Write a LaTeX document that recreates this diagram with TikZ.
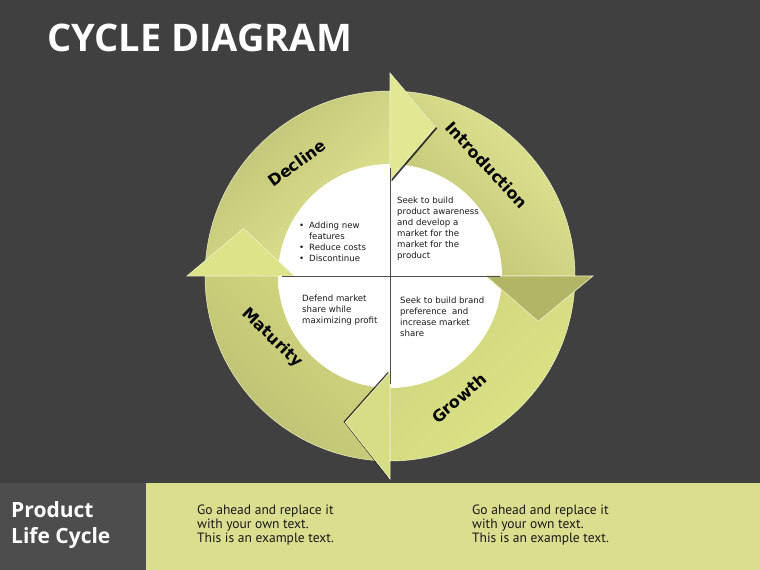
\documentclass[tikz,border=0pt]{standalone}
\usepackage{fontspec}
\setmainfont{PT Sans}
\newfontfamily\dvs{DejaVu Sans}
\newfontfamily\osans{Open Sans}
\definecolor{bg}{HTML}{404040}
\definecolor{darkbox}{HTML}{4D4D4D}
\definecolor{band}{HTML}{DADE8E}
\definecolor{rim}{HTML}{EEF1C4}
\definecolor{lightY}{HTML}{DDE385}
\definecolor{paleY}{HTML}{E2E794}
\definecolor{midY}{HTML}{D0D57F}
\definecolor{oliveY}{HTML}{BEC073}
\definecolor{darkO}{HTML}{B3B566}
\pgfdeclareradialshading{whiteedge}{\pgfpoint{0bp}{0bp}}{color(0bp)=(white); color(43bp)=(white); color(50bp)=(black!22); color(100bp)=(black!22)}
\tikzset{
  body/.style={draw=rim, line width=0.5pt},
  headshape/.style={draw=rim, line width=0.6pt},
  hshadow/.style={fill=black, opacity=0.75},
  stage/.style={font=\dvs\bfseries\fontsize{16}{16}\selectfont, text=black, inner sep=0pt},
  quad/.style={font=\dvs\fontsize{8.6}{11}\selectfont, text=black!90, inner sep=0pt, align=left, anchor=north west},
  bandtxt/.style={font=\fontsize{13.5}{14}\selectfont, text=black!90, inner sep=0pt, align=left, anchor=north west},
  crossline/.style={draw=black!70, line width=0.7pt}
}
\begin{document}
\begin{tikzpicture}[x=1pt,y=1pt]
\fill[bg] (0,0) rectangle (760,570);
\useasboundingbox (0,0) rectangle (760,570);
% title
\node[anchor=base west, font=\osans\bfseries\fontsize{38}{38}\selectfont, text=white, inner sep=0pt] (title) at (47,518) {CYCLE DIAGRAM};
% bottom band
\fill[darkbox] (0,0) rectangle (146,87);
\fill[band] (146,0) rectangle (760,87);
\node[anchor=base west, font=\osans\bfseries\fontsize{21}{25}\selectfont, text=white, inner sep=0pt] (plc) at (11,52) {Product};
\node[anchor=base west, font=\osans\bfseries\fontsize{21}{25}\selectfont, text=white, inner sep=0pt] (plc2) at (11,27) {Life Cycle};
\node[bandtxt] (t1) at (197,65) {Go ahead and replace it\\with your own text.\\This is an example text.};
\node[bandtxt] (t2) at (472,65) {Go ahead and replace it\\with your own text.\\This is an example text.};
% cycle
\begin{scope}[shift={(390,294)}]
  % bodies
  \path[body, left color=oliveY, middle color=lightY, right color=paleY, shading angle=45]
    (180:185pt) arc[start angle=180,end angle=90,radius=185pt] -- (90:108pt) arc[start angle=90,end angle=180,radius=108pt] -- cycle;
  \path[body, left color=paleY, middle color=midY, right color=oliveY, shading angle=-45]
    (90:185pt) arc[start angle=90,end angle=0,radius=185pt] -- (0:108pt) arc[start angle=0,end angle=90,radius=108pt] -- cycle;
  \path[body, left color=lightY, right color=midY, shading angle=-135]
    (0:185pt) arc[start angle=0,end angle=-90,radius=185pt] -- (-90:108pt) arc[start angle=-90,end angle=0,radius=108pt] -- cycle;
  \path[body, left color=oliveY, middle color=midY, right color=lightY, shading angle=135]
    (-90:185pt) arc[start angle=-90,end angle=-180,radius=185pt] -- (180:108pt) arc[start angle=180,end angle=90,radius=108pt] -- cycle;
  % white centre
  \shade[shading=whiteedge] (0,0) circle[radius=112pt];
  % heads
  \fill[hshadow] ([shift={(1.6,-1.6)}]90:96pt) -- ([shift={(1.6,-1.6)}]73:156pt) -- ([shift={(1.6,-1.6)}]90:203pt) -- cycle;
  \path[headshape, fill=paleY]
    (90:96pt) -- (73:156pt) -- (90:203pt) -- cycle;
  \path[headshape, fill=darkO]
    (0:96pt) -- (-17:155pt) -- (0:203pt) -- cycle;
  \fill[hshadow] ([shift={(-1.7,0.6)}]-90:96pt) -- ([shift={(-1.7,0.6)}]-107:153pt) -- ([shift={(-1.7,0.6)}]-90:203pt) -- cycle;
  \path[headshape, fill={rgb,255:red,215;green,220;blue,134}]
    (-90:96pt) -- (-107:153pt) -- (-90:203pt) -- cycle;
  \path[headshape, fill={rgb,255:red,221;green,227;blue,136}]
    (180:96pt) -- (162:154pt) -- (180:203pt) -- cycle;
  % cross lines
  \coordinate (ct) at (0,108);
  \coordinate (cb) at (0,-108);
  \coordinate (cl) at (-108,0);
  \coordinate (cr) at (110,0);
  \draw[crossline] (ct) -- (cb);
  \draw[crossline] (cl) -- (cr);
  % stage labels
  \node[stage, rotate=36] (decline) at (-93,113) {Decline};
  \node[stage, rotate=-47] (intro) at (97,111) {Introduction};
  \node[stage, rotate=41] (growth) at (69,-122) {Growth};
  \node[stage, rotate=-44] (maturity) at (-118,-62) {Maturity};
  % quadrant texts
  \node[quad] (qtr) at (7,79) {Seek to build\\product awareness\\and develop a\\market for the\\market for the\\product};
  \node[quad] (qtl) at (-91,54) {\makebox[10pt][l]{•}Adding new\\\makebox[10pt][l]{}features\\\makebox[10pt][l]{•}Reduce costs\\\makebox[10pt][l]{•}Discontinue};
  \node[quad] (qbl) at (-88,-19) {Defend market\\share while\\maximizing profit};
  \node[quad] (qbr) at (10,-21) {Seek to build brand\\preference\ \ and\\increase market\\share};
\end{scope}
\end{tikzpicture}
\end{document}
